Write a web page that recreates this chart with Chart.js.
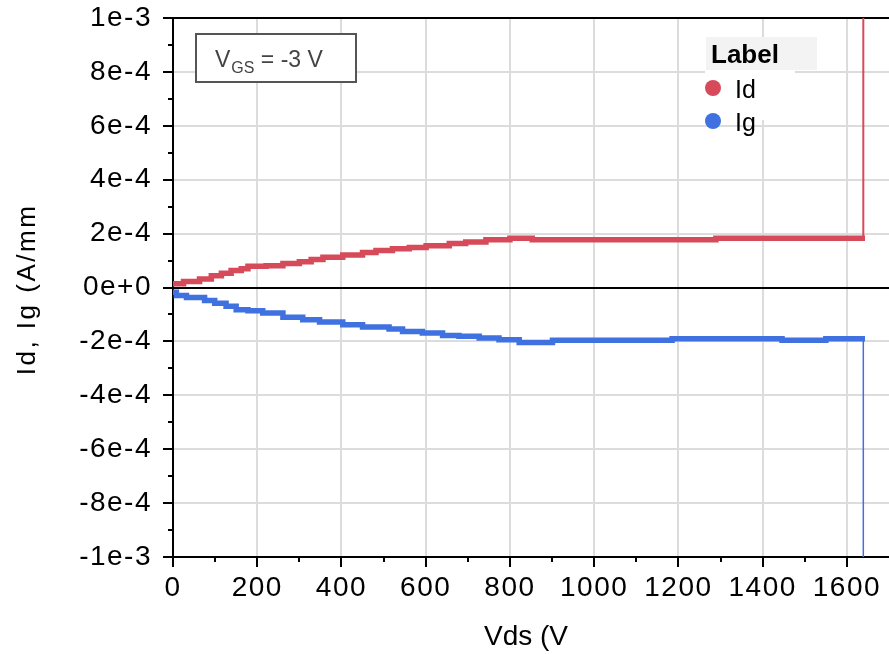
<!DOCTYPE html>
<html>
<head>
<meta charset="utf-8">
<script src="https://cdn.jsdelivr.net/npm/chart.js@4.4.1/dist/chart.umd.min.js"></script>
<style>
  html, body { margin: 0; padding: 0; background: #fff; }
  #wrap { width: 889px; height: 654px; position: relative; }
</style>
</head>
<body>
<div id="wrap"><canvas id="chart" width="889" height="654"></canvas></div>
<script>
// Drain current Id (A/mm) vs Vds (V): each value holds from its Vds until the next one
const idVds = [0, 25, 63, 91, 115, 138, 162, 178, 221, 261, 300, 328, 356, 403, 450, 482, 521, 561, 601, 656, 695, 743, 800, 853, 1289, 1596, 1643];
const idVals = [0.8e-5, 1.4e-5, 2.2e-5, 3.2e-5, 4.4e-5, 5.3e-5, 6.3e-5, 7.0e-5, 7.9e-5, 8.1e-5, 8.9e-5, 9.6e-5, 1.04e-4, 1.12e-4, 1.21e-4, 1.30e-4, 1.37e-4, 1.44e-4, 1.48e-4, 1.55e-4, 1.63e-4, 1.69e-4, 1.77e-4, 1.83e-4, 1.77e-4, 1.83e-4, 1.83e-4];

// Gate current Ig (A/mm) vs Vds (V)
const igVds = [0, 8, 32, 75, 99, 126, 150, 178, 213, 261, 308, 348, 403, 450, 513, 545, 592, 640, 679, 727, 774, 822, 901, 1185, 1446, 1550, 1612, 1643];
const igVals = [-0.9e-5, -1.8e-5, -3.0e-5, -3.7e-5, -4.8e-5, -5.8e-5, -7.0e-5, -8.3e-5, -8.6e-5, -9.5e-5, -1.10e-4, -1.20e-4, -1.28e-4, -1.38e-4, -1.47e-4, -1.54e-4, -1.63e-4, -1.69e-4, -1.78e-4, -1.81e-4, -1.87e-4, -1.94e-4, -2.04e-4, -1.96e-4, -1.90e-4, -1.96e-4, -1.90e-4, -1.90e-4];

// Breakdown: both currents leave the plotted range at the same Vds
const breakVds = [1639, 1639];
const idBreak = [1.83e-4, 1.2e-3];
const igBreak = [-1.90e-4, -1.2e-3];

const seriesLabels = ['Id', 'Ig'];
const xTickLabels = ['0', '200', '400', '600', '800', '1000', '1200', '1400', '1600'];
const yTickLabels = ['-1e-3', '-8e-4', '-6e-4', '-4e-4', '-2e-4', '0e+0', '2e-4', '4e-4', '6e-4', '8e-4', '1e-3'];
const xTitle = 'Vds (V';
const yTitle = 'Id, Ig (A/mm';

const RED = '#d64a5a';
const BLUE = '#3f71e0';
const FONT = "'Liberation Sans', Arial, Helvetica, sans-serif";

const toPoints = (xs, ys) => xs.map((x, i) => ({ x: x, y: ys[i] }));

// Slightly open tracking for the axis numbers
const tracking = {
  id: 'tracking',
  beforeDraw(chart) { if ('letterSpacing' in chart.ctx) chart.ctx.letterSpacing = '1.5px'; },
  afterDraw(chart) { if ('letterSpacing' in chart.ctx) chart.ctx.letterSpacing = '0px'; }
};

// Short minor ticks halfway between the labelled ones
const minorTicks = {
  id: 'minorTicks',
  afterDraw(chart) {
    const { ctx, chartArea } = chart;
    const xs = chart.scales.x, ys = chart.scales.y;
    ctx.save();
    ctx.strokeStyle = '#000';
    ctx.lineWidth = 2;
    ctx.beginPath();
    const xt = xs.ticks;
    for (let i = 0; i < xt.length; i++) {
      const v = xt[i].value + (xs.options.ticks.stepSize / 2);
      if (v >= xs.max) break;
      const p = Math.round(xs.getPixelForValue(v));
      ctx.moveTo(p, chartArea.bottom);
      ctx.lineTo(p, chartArea.bottom + 5);
    }
    const yt = ys.ticks;
    for (let i = 0; i < yt.length - 1; i++) {
      const v = (yt[i].value + yt[i + 1].value) / 2;
      const p = Math.round(ys.getPixelForValue(v));
      ctx.moveTo(chartArea.left - 5, p);
      ctx.lineTo(chartArea.left, p);
    }
    ctx.stroke();
    ctx.restore();
  }
};

// Axis titles
const axisTitles = {
  id: 'axisTitles',
  afterDraw(chart) {
    const { ctx, chartArea } = chart;
    ctx.save();
    ctx.fillStyle = '#000';
    ctx.textAlign = 'center';
    ctx.textBaseline = 'middle';
    if ('letterSpacing' in ctx) ctx.letterSpacing = '0px';
    ctx.font = '28px ' + FONT;
    ctx.fillText(xTitle, (chartArea.left + chartArea.right) / 2 - 5, chartArea.bottom + 80);
    ctx.translate(28, (chartArea.top + chartArea.bottom) / 2 + 2);
    ctx.rotate(-Math.PI / 2);
    ctx.font = '26px ' + FONT;
    if ('letterSpacing' in ctx) ctx.letterSpacing = '2.5px';
    ctx.fillText(yTitle, 0, 0);
    ctx.restore();
  }
};

// Bias condition box in the upper left of the plot
const biasBox = {
  id: 'biasBox',
  beforeDatasetsDraw(chart) {
    const { ctx, chartArea } = chart;
    const x = chartArea.left + 23, y = chartArea.top + 16, w = 160, h = 48;
    ctx.save();
    if ('letterSpacing' in ctx) ctx.letterSpacing = '0px';
    ctx.fillStyle = '#fff';
    ctx.fillRect(x, y, w, h);
    ctx.strokeStyle = '#555';
    ctx.lineWidth = 2;
    ctx.strokeRect(x, y, w, h);
    ctx.fillStyle = '#444';
    ctx.textBaseline = 'alphabetic';
    ctx.textAlign = 'left';
    const base = y + 33;
    ctx.font = '23px ' + FONT;
    ctx.fillText('V', x + 19, base);
    let cx = x + 19 + ctx.measureText('V').width + 1;
    ctx.font = '16px ' + FONT;
    ctx.fillText('GS', cx, base + 6);
    cx += ctx.measureText('GS').width;
    ctx.font = '23px ' + FONT;
    ctx.fillText(' = -3 V', cx, base);
    ctx.restore();
  }
};

// Legend with a title row, drawn inside the plot at the upper right
const innerLegend = {
  id: 'innerLegend',
  afterDatasetsDraw(chart) {
    const { ctx } = chart;
    const x0 = 706, y0 = 37;
    ctx.save();
    if ('letterSpacing' in ctx) ctx.letterSpacing = '0px';
    ctx.fillStyle = '#fff';
    ctx.fillRect(x0 - 1, y0 + 33, 90, 50);
    ctx.fillStyle = '#f3f3f3';
    ctx.fillRect(x0, y0, 111, 33);
    ctx.fillStyle = '#000';
    ctx.font = 'bold 26px ' + FONT;
    ctx.textBaseline = 'alphabetic';
    ctx.textAlign = 'left';
    ctx.fillText('Label', x0 + 5, y0 + 26);
    const sets = chart.data.datasets.filter(d => seriesLabels.includes(d.label));
    sets.forEach((d, i) => {
      const cy = y0 + 51 + i * 33;
      ctx.beginPath();
      ctx.arc(x0 + 7, cy, 8, 0, Math.PI * 2);
      ctx.fillStyle = d.borderColor;
      ctx.fill();
      ctx.fillStyle = '#000';
      ctx.font = '25px ' + FONT;
      ctx.fillText(d.label, x0 + 29, cy + 10);
    });
    ctx.restore();
  }
};

new Chart(document.getElementById('chart'), {
  type: 'line',
  data: {
    datasets: [
      {
        label: seriesLabels[0],
        data: toPoints(idVds, idVals),
        borderColor: RED, backgroundColor: RED,
        borderWidth: 5.5, stepped: 'after', pointRadius: 0,
        borderCapStyle: 'butt', borderJoinStyle: 'miter'
      },
      {
        label: seriesLabels[1],
        data: toPoints(igVds, igVals),
        borderColor: BLUE, backgroundColor: BLUE,
        borderWidth: 5.5, stepped: 'after', pointRadius: 0,
        borderCapStyle: 'butt', borderJoinStyle: 'miter'
      },
      {
        label: 'Id breakdown',
        data: toPoints(breakVds, idBreak),
        borderColor: RED, borderWidth: 2, pointRadius: 0, clip: 0
      },
      {
        label: 'Ig breakdown',
        data: toPoints(breakVds, igBreak),
        borderColor: BLUE, borderWidth: 1.5, pointRadius: 0, clip: 0
      }
    ]
  },
  options: {
    responsive: false,
    animation: false,
    events: [],
    layout: { padding: { top: 18, right: 0, bottom: 0, left: 0 } },
    plugins: { legend: { display: false }, tooltip: { enabled: false } },
    scales: {
      x: {
        type: 'linear',
        min: 0, max: 1700,
        afterFit(scale) { scale.height = 97; scale.paddingLeft = 0; scale.paddingRight = 0; },
        ticks: {
          stepSize: 200, includeBounds: false, padding: 4,
          color: '#000', font: { family: FONT, size: 28 },
          maxRotation: 0,
          callback: (v, i) => xTickLabels[i]
        },
        grid: {
          color: c => (c.tick && c.tick.value === 0) ? '#000' : '#dcdcdc',
          lineWidth: 2, tickLength: 10, tickColor: '#000', tickWidth: 2
        },
        border: { color: '#000', width: 2 },
        title: { display: false }
      },
      y: {
        type: 'linear',
        min: -1e-3, max: 1e-3,
        afterFit(scale) { scale.width = 173; scale.paddingTop = 0; scale.paddingBottom = 0; },
        ticks: {
          stepSize: 2e-4, padding: 11,
          color: '#000', font: { family: FONT, size: 28 },
          callback: (v, i) => yTickLabels[i]
        },
        grid: {
          color: c => {
            const v = c.tick ? c.tick.value : 1;
            if (Math.abs(v) < 1e-9 || v > 9.9e-4) return '#000';
            return '#dcdcdc';
          },
          lineWidth: 2, tickLength: 10, tickColor: '#000', tickWidth: 2
        },
        border: { color: '#000', width: 2 },
        title: { display: false }
      }
    }
  },
  plugins: [tracking, minorTicks, axisTitles, biasBox, innerLegend]
});
</script>
</body>
</html>
